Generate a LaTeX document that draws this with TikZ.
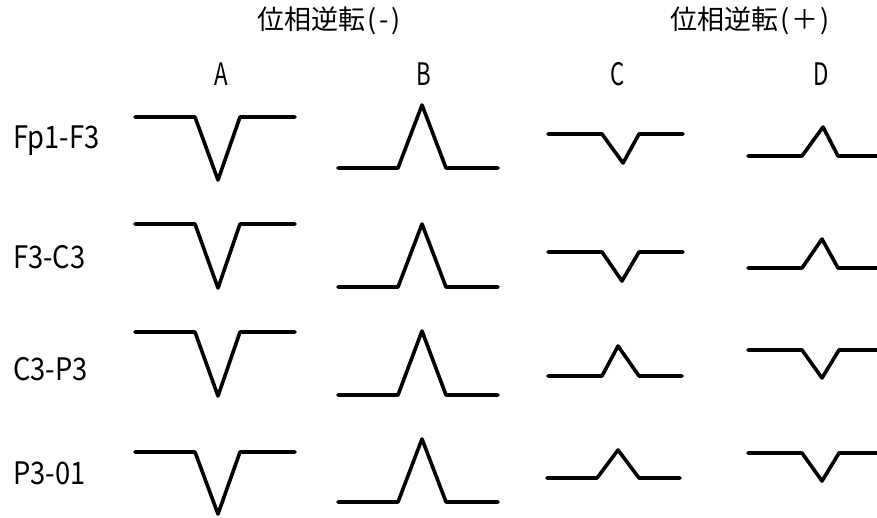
\documentclass[tikz,border=0pt]{standalone}
\usepackage{fontspec}
\setmainfont{Noto Sans CJK JP}
\begin{document}
\begin{tikzpicture}[x=1pt,y=-1pt,
  wave/.style={line width=3.6pt,line join=round,line cap=round,black},
  title/.style={inner sep=0pt,font=\fontsize{27}{27}\selectfont},
  colhead/.style={inner sep=0pt,anchor=base,font=\fontsize{31}{31}\selectfont},
  rowlabel/.style={inner sep=0pt,anchor=base west,font=\fontsize{31}{31}\selectfont}]
\useasboundingbox (0,0) rectangle (877,517);
\clip (0,0) rectangle (877,517);

% group titles
\node[title] (tminus) at (329,21) {位相逆転\hspace{2pt}(\hspace{3pt}-\hspace{3pt})};
\node[title] (tplus)  at (750,21) {位相逆転\hspace{2pt}(\hspace{2pt}＋\hspace{2pt})};

% column headings
\node[colhead] (hA) at (221,85) {\scalebox{0.72}[1]{A}};
\node[colhead] (hB) at (424,85) {\scalebox{0.72}[1]{B}};
\node[colhead] (hC) at (618,85) {\scalebox{0.72}[1]{C}};
\node[colhead] (hD) at (821,85) {\scalebox{0.72}[1]{D}};

% channel labels
\node[rowlabel] (r1) at (13,148) {\scalebox{0.88}[1]{Fp1-F3}};
\node[rowlabel] (r2) at (13,268) {\scalebox{0.88}[1]{F3-C3}};
\node[rowlabel] (r3) at (13,380) {\scalebox{0.88}[1]{C3-P3}};
\node[rowlabel] (r4) at (13,484) {\scalebox{0.88}[1]{P3-01}};

% column A: negative spikes
\draw[wave] (135,117) -- (195,117) -- (218,180) -- (240,117) -- (295,117);
\draw[wave] (135,224) -- (195,224) -- (218,288) -- (240,224) -- (295,224);
\draw[wave] (135,332) -- (195,332) -- (218,396) -- (240,332) -- (295,332);
\draw[wave] (135,452) -- (195,452) -- (218,514) -- (240,452) -- (295,452);

% column B: positive spikes
\draw[wave] (338,168) -- (398,168) -- (422,105) -- (446,168) -- (498,168);
\draw[wave] (338,287) -- (398,287) -- (422,224) -- (446,287) -- (498,287);
\draw[wave] (338,395) -- (398,395) -- (422,331) -- (446,395) -- (498,395);
\draw[wave] (338,502) -- (398,502) -- (422,439) -- (446,502) -- (498,502);

% column C
\draw[wave] (548,134) -- (602,134) -- (623,163) -- (639,134) -- (683,134);
\draw[wave] (548,252) -- (602,252) -- (622,281) -- (639,252) -- (683,252);
\draw[wave] (548,376) -- (602,376) -- (618,346) -- (639,376) -- (682,376);
\draw[wave] (547,478) -- (597,478) -- (618,450) -- (639,478) -- (680,478);

% column D
\draw[wave] (748,156) -- (802,156) -- (823,127) -- (838,156) -- (880,156);
\draw[wave] (748,268) -- (802,268) -- (822,239) -- (838,268) -- (880,268);
\draw[wave] (748,350) -- (802,350) -- (822,378) -- (839,350) -- (880,350);
\draw[wave] (748,453) -- (802,453) -- (822,481) -- (839,453) -- (880,453);
\end{tikzpicture}
\end{document}
